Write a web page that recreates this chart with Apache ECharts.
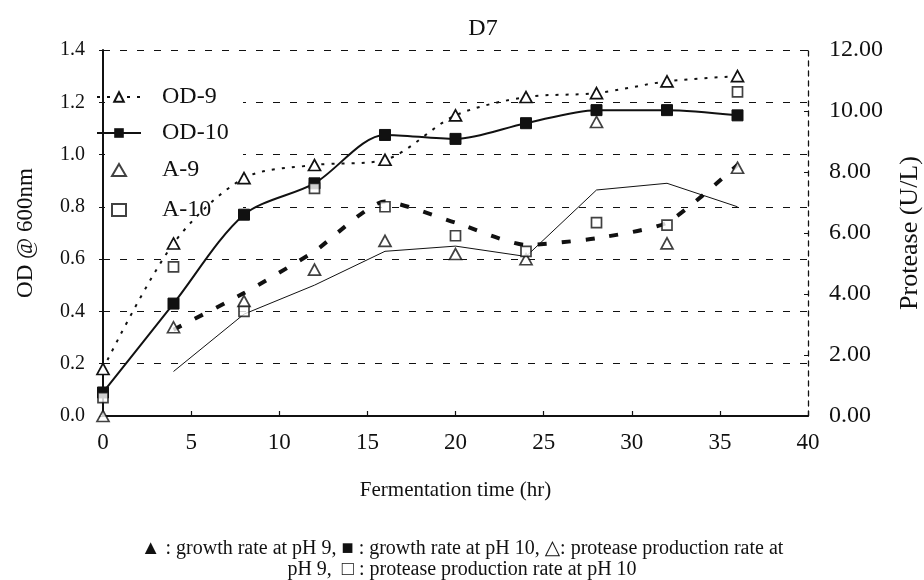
<!DOCTYPE html>
<html>
<head>
<meta charset="utf-8">
<script src="https://cdn.jsdelivr.net/npm/echarts@6/dist/echarts.min.js"></script>
<style>
    html, body { margin: 0; padding: 0; background: #fff; }
    #chart { width: 924px; height: 580px; }
</style>
</head>
<body>
<div id="chart"></div>
<script>
    // sampling times (hr)
    let hours = [0, 4, 8, 12, 16, 20, 24, 28, 32, 36];
    // OD @ 600nm, left axis
    let od9 = [0.18, 0.66, 0.91, 0.96, 0.98, 1.15, 1.22, 1.235, 1.28, 1.30];
    let od10 = [0.09, 0.43, 0.77, 0.89, 1.075, 1.06, 1.12, 1.17, 1.17, 1.15];
    // protease (U/L), right axis
    let a9 = [0.00, 2.91, 3.77, 4.80, 5.74, 5.31, 5.14, 9.64, 5.66, 8.14];
    let a10 = [0.60, 4.89, 3.43, 7.46, 6.86, 5.91, 5.40, 6.34, 6.26, 10.63];
    // trend lines drawn through the protease points
    let trendHours = [4, 8, 12, 16, 20, 24, 28, 32, 36];
    let trendA9 = [1.46, 3.34, 4.29, 5.40, 5.57, 5.23, 7.41, 7.63, 6.86];
    let trendA10 = [2.83, 4.03, 5.40, 7.03, 6.34, 5.61, 5.83, 6.34, 8.23];

    let serif = '"Liberation Serif", "DejaVu Serif", serif';
    let ink = '#111';

    function pairs(xs, ys) {
        return xs.map((x, i) => [x, ys[i]]);
    }

    let myChart = echarts.init(document.getElementById('chart'));
    let openMark = { color: '#fff', borderColor: ink, borderWidth: 1.7 };
    let legendText = { fontFamily: serif, fontSize: 24, lineHeight: 24, color: ink };

    let option = {
        animation: false,
        backgroundColor: '#fff',
        textStyle: { fontFamily: serif, color: ink },
        title: {
            text: 'D7',
            left: 478,
            top: 12,
            textAlign: 'center',
            textStyle: { fontFamily: serif, fontSize: 24, fontWeight: 'normal', color: ink }
        },
        grid: { left: 103, right: 116, top: 50, bottom: 164, outerBoundsMode: 'none' },
        legend: [{
            orient: 'vertical',
            left: 91,
            top: 80,
            itemWidth: 44,
            itemHeight: 12,
            itemGap: 12,
            data: ['OD-9', 'OD-10'],
            textStyle: Object.assign({ padding: [0, 0, 0, 16] }, legendText)
        }, {
            orient: 'vertical',
            left: 106,
            top: 153,
            itemWidth: 14,
            itemHeight: 12,
            itemGap: 16,
            data: ['A-9', 'A-10'],
            textStyle: Object.assign({ padding: [0, 0, 0, 31] }, legendText)
        }],
        xAxis: {
            type: 'value',
            min: 0,
            max: 40,
            interval: 5,
            name: 'Fermentation time (hr)',
            nameLocation: 'middle',
            nameGap: 64,
            nameTextStyle: { fontFamily: serif, fontSize: 21, color: ink },
            axisLine: { lineStyle: { color: ink, width: 1.8 } },
            axisTick: { inside: true, length: 5, lineStyle: { color: ink, width: 1.2 } },
            axisLabel: { fontFamily: serif, fontSize: 23, color: ink, margin: 15 },
            splitLine: { show: false }
        },
        yAxis: [{
            type: 'value',
            min: 0,
            max: 1.4,
            interval: 0.2,
            name: 'OD @ 600nm',
            nameLocation: 'middle',
            nameRotate: 90,
            nameGap: 66,
            nameTextStyle: { fontFamily: serif, fontSize: 23, color: ink },
            axisLine: { show: true, lineStyle: { color: ink, width: 2 } },
            axisTick: { show: true, length: 4, lineStyle: { color: ink } },
            axisLabel: { fontFamily: serif, fontSize: 20, color: ink, margin: 18, formatter: v => v.toFixed(1) },
            splitLine: { show: true, lineStyle: { color: ink, width: 1.2, type: [7, 10] } }
        }, {
            type: 'value',
            min: 0,
            max: 12,
            interval: 2,
            name: 'Protease (U/L)',
            nameLocation: 'middle',
            nameRotate: 90,
            nameGap: 89,
            nameTextStyle: { fontFamily: serif, fontSize: 26, color: ink },
            axisLine: { show: true, lineStyle: { color: ink, width: 1.3, type: [5, 5] } },
            axisTick: { show: true, inside: true, length: 4, lineStyle: { color: ink } },
            axisLabel: { fontFamily: serif, fontSize: 24, color: ink, margin: 21, formatter: v => v.toFixed(2) },
            splitLine: { show: false }
        }],
        series: [
            {
                name: 'A-10 trend',
                type: 'line',
                yAxisIndex: 1,
                showSymbol: false,
                smooth: 0.2,
                lineStyle: { color: ink, width: 4, type: [9, 15] },
                data: pairs(trendHours, trendA10),
                z: 3
            },
            {
                name: 'A-9 trend',
                type: 'line',
                yAxisIndex: 1,
                showSymbol: false,
                lineStyle: { color: ink, width: 1 },
                data: pairs(trendHours, trendA9),
                z: 3
            },
            {
                name: 'OD-9',
                type: 'line',
                smooth: 0.3,
                symbol: 'triangle',
                symbolSize: [12, 11],
                itemStyle: openMark,
                lineStyle: { color: ink, width: 2, type: [3, 7] },
                data: pairs(hours, od9),
                z: 4
            },
            {
                name: 'OD-10',
                type: 'line',
                smooth: 0.3,
                symbol: 'rect',
                symbolSize: 11,
                itemStyle: { color: ink, borderColor: ink },
                lineStyle: { color: ink, width: 2 },
                data: pairs(hours, od10),
                z: 4
            },
            {
                name: 'A-9',
                type: 'scatter',
                yAxisIndex: 1,
                symbol: 'triangle',
                symbolSize: [12, 11],
                itemStyle: openMark,
                data: pairs(hours, a9),
                z: 5
            },
            {
                name: 'A-10',
                type: 'scatter',
                yAxisIndex: 1,
                symbol: 'rect',
                symbolSize: 10,
                itemStyle: openMark,
                data: pairs(hours, a10),
                z: 5
            }
        ],
        graphic: [
            {
                // white box behind the legend hides the grid lines there
                type: 'rect',
                z: 1,
                shape: { x: 105, y: 62, width: 138, height: 160 },
                style: { fill: '#fff' }
            },
            {
                type: 'text',
                left: 'center',
                top: 539,
                style: {
                    text: '▲ : growth rate at pH 9, ■ : growth rate at pH 10, △: protease production rate at',
                    font: '20px ' + serif,
                    fill: ink
                }
            },
            {
                type: 'text',
                left: 'center',
                top: 560,
                style: {
                    text: 'pH 9,  □ : protease production rate at pH 10',
                    font: '20px ' + serif,
                    fill: ink
                }
            }
        ]
    };

    myChart.setOption(option);
</script>
</body>
</html>
